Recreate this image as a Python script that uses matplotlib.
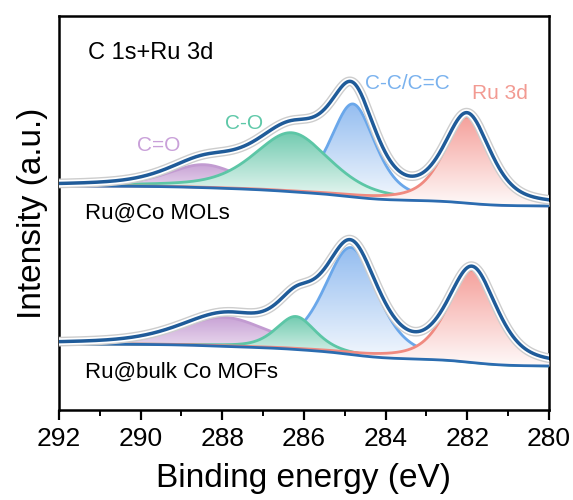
import numpy as np
import matplotlib.pyplot as plt
from matplotlib.colors import LinearSegmentedColormap, to_rgb
from matplotlib.ticker import MultipleLocator

plt.rcParams['font.family'] = ['Liberation Sans', 'DejaVu Sans']

# fitted components (order: C=O, C-O, C-C/C=C, Ru 3d)
comp_names = ['C=O', 'C-O', 'C-C/C=C', 'Ru 3d']

# Ru@Co MOLs: peak centre (eV), height above background, FWHM (eV)
mols_center = [288.45, 286.3, 284.8, 282.0]
mols_height = [23, 59, 93, 86]
mols_fwhm = [2.1, 2.2, 1.3, 1.32]
mols_bg = [224, 204]  # background level at 292 eV / 280 eV

# Ru@bulk Co MOFs
mofs_center = [287.95, 286.2, 284.85, 281.88]
mofs_height = [29, 33, 107, 92]
mofs_fwhm = [2.6, 1.15, 1.55, 1.4]
mofs_bg = [66, 44]

line_colors = ['#c29bd1', '#5cc6a6', '#6aa7ea', '#f08a80']
fill_colors = ['#c9a3d6', '#72cbb0', '#94bdf0', '#f5a19c']
label_colors = ['#c9a0d9', '#5ec8a8', '#7ab2ee', '#f29a92']

ETA = 0.5  # Lorentzian fraction of the pseudo-Voigt line shape


def pseudo_voigt(x, c, h, w):
    g = np.exp(-4 * np.log(2) * ((x - c) / w) ** 2)
    l = 1 / (1 + 4 * ((x - c) / w) ** 2)
    return h * (ETA * l + (1 - ETA) * g)


def shirley(x, total, bg):
    area = np.cumsum(total)
    area = area / area[-1]
    return bg[1] + (bg[0] - bg[1]) * area


def gradient_fill(ax, x, lower, upper, color, z):
    poly = ax.fill_between(x, lower, upper, color='white', lw=0, zorder=z)
    rgb = np.array(to_rgb(color))
    light = 1 - (1 - rgb) * 0.06
    cmap = LinearSegmentedColormap.from_list('g', [light, rgb])
    grad = np.linspace(0, 1, 256).reshape(-1, 1)
    im = ax.imshow(grad, cmap=cmap, origin='lower', aspect='auto',
                   extent=[x.min(), x.max(), lower.min(), upper.max()],
                   zorder=z + 0.1)
    im.set_clip_path(poly.get_paths()[0], transform=ax.transData)


x = np.linspace(280, 292, 1200)

fig = plt.figure(figsize=(5.73, 5.0), dpi=100)
ax = fig.add_axes([0.103, 0.18, 0.855, 0.788])

for centers, heights, fwhms, bg in [(mols_center, mols_height, mols_fwhm, mols_bg),
                                    (mofs_center, mofs_height, mofs_fwhm, mofs_bg)]:
    peaks = [pseudo_voigt(x, c, h, w) for c, h, w in zip(centers, heights, fwhms)]
    total = np.sum(peaks, axis=0)
    base = shirley(x, total, bg)
    # draw order: C-C under C=O under C-O, Ru 3d on top
    for k, i in enumerate([2, 0, 1, 3]):
        z = 1 + k
        gradient_fill(ax, x, base, base + peaks[i], fill_colors[i], z)
        ax.plot(x, base + peaks[i], color=line_colors[i], lw=2, zorder=z + 0.2)
    ax.plot(x, base, color='#2b6cb0', lw=2, zorder=6)
    # measured data shown as a faint outline around the fit envelope
    ax.plot(x, base + total, color='#cdcdcd', lw=7, zorder=7, solid_capstyle='round')
    ax.plot(x, base + total, color='white', lw=5, zorder=7.1, solid_capstyle='round')
    ax.plot(x, base + total, color='#1f5b99', lw=2.5, zorder=8)

ax.set_xlim(292, 280)
ax.set_ylim(0, 394)
ax.set_yticks([])
ax.xaxis.set_major_locator(MultipleLocator(2))
ax.xaxis.set_minor_locator(MultipleLocator(1))
ax.tick_params(axis='x', which='major', direction='out', length=7, width=1.6,
               labelsize=19, pad=5)
ax.tick_params(axis='x', which='minor', direction='out', length=4, width=1.4)
for s in ax.spines.values():
    s.set_linewidth(1.8)

ax.set_xlabel('Binding energy (eV)', fontsize=24, labelpad=9)
ax.set_ylabel('Intensity (a.u.)', fontsize=24, labelpad=8)

ax.text(291.29, 357, 'C 1s+Ru 3d', fontsize=17, ha='left', va='center')
label_pos = [(289.55, 265), (287.47, 287), (283.47, 327), (281.19, 317)]
for (lx, ly), name, col in zip(label_pos, comp_names, label_colors):
    ax.text(lx, ly, name, fontsize=15, color=col, ha='center', va='center', zorder=10)
ax.text(291.36, 197, 'Ru@Co MOLs', fontsize=16, ha='left', va='center', zorder=10)
ax.text(291.36, 38, 'Ru@bulk Co MOFs', fontsize=16, ha='left', va='center', zorder=10)

fig.savefig('out.png', dpi=100)
